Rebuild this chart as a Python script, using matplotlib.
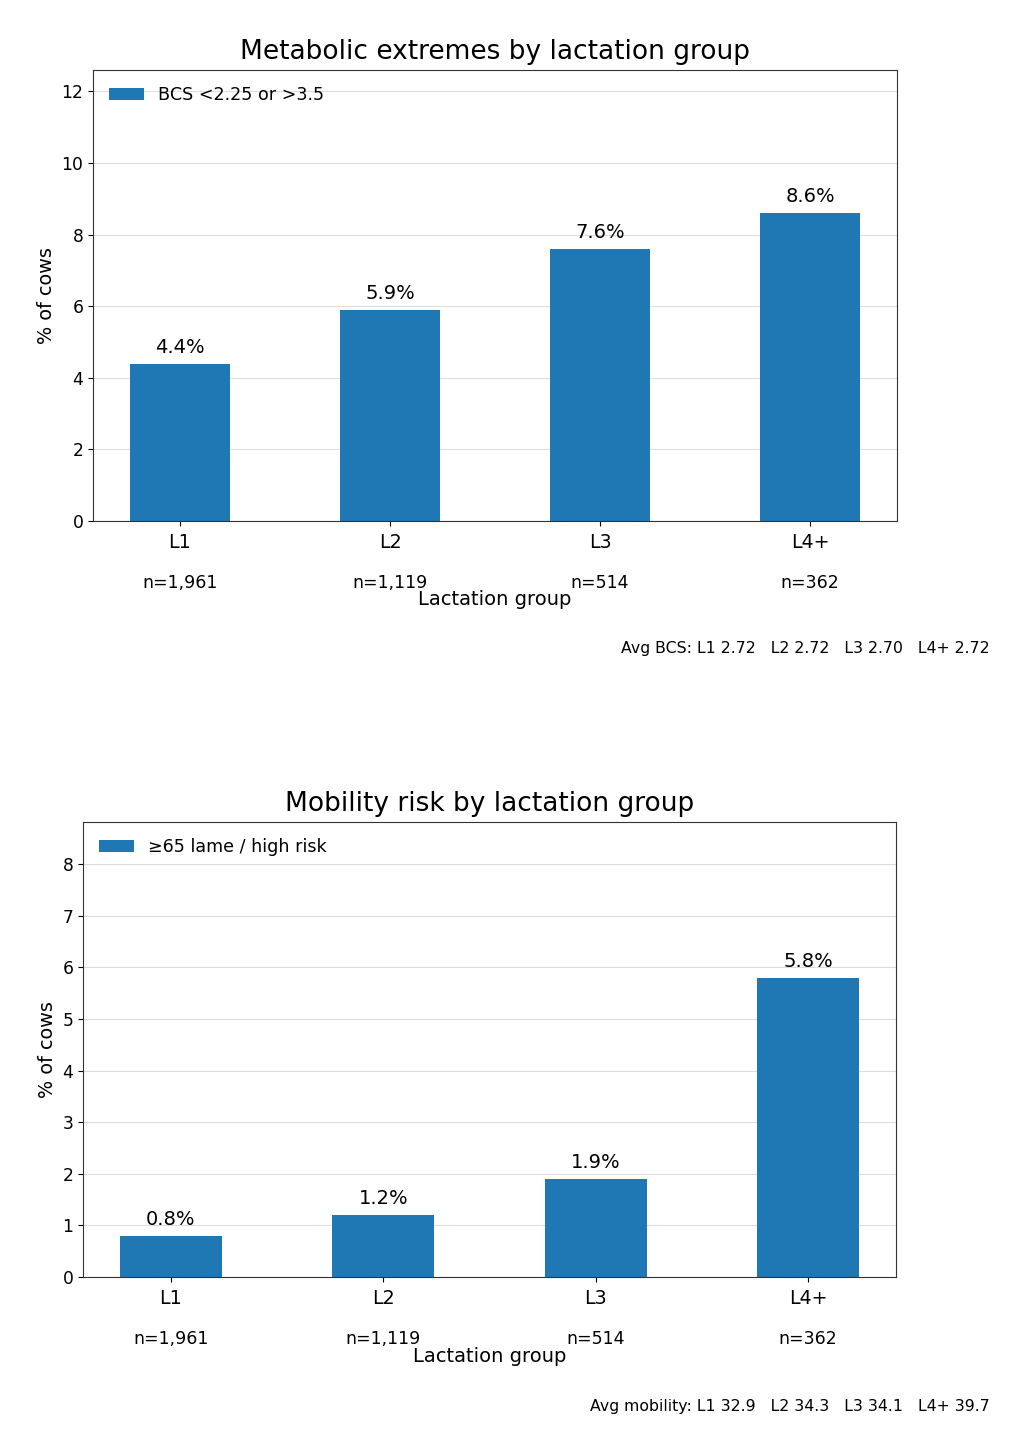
import numpy as np
import matplotlib
matplotlib.use('Agg')
import matplotlib.pyplot as plt
from matplotlib import transforms

# data
groups = ['L1', 'L2', 'L3', 'L4+']
n_cows = [1961, 1119, 514, 362]
bcs_extreme_pct = [4.4, 5.9, 7.6, 8.6]
lame_pct = [0.8, 1.2, 1.9, 5.8]
avg_bcs = [2.72, 2.72, 2.70, 2.72]
avg_mobility = [32.9, 34.3, 34.1, 39.7]

W, H = 1024, 1448
fig = plt.figure(figsize=(W / 100, H / 100), dpi=100)


def px_axes(left, top, right, bottom):
    # axes box given in pixel coords of the final image
    return fig.add_axes([left / W, 1 - bottom / H, (right - left) / W, (bottom - top) / H])


def draw_panel(ax, values, label, title, ymax, yticks, note, note_y):
    x = np.arange(len(groups))
    bars = ax.bar(x, values, width=0.48, color='#1f77b4', label=label, zorder=2)
    ax.set_xticks(x)
    ax.set_xticklabels(groups, fontsize=13.7)
    ax.tick_params(axis='x', pad=5)
    ax.set_ylim(0, ymax)
    ax.set_yticks(yticks)
    ax.tick_params(axis='y', labelsize=12.3)
    ax.grid(axis='y', color='#dddddd', linewidth=0.8, zorder=0)
    ax.set_axisbelow(True)
    for s in ax.spines.values():
        s.set_color('#333333')
    ax.set_title(title, fontsize=19, pad=8)
    ax.set_ylabel('% of cows', fontsize=13.9)
    ax.set_xlabel('Lactation group', fontsize=14)
    ax.xaxis.set_label_coords(0.5, -0.153)

    # value labels above bars
    for b, v in zip(bars, values):
        ax.annotate(f'{v:.1f}%', xy=(b.get_x() + b.get_width() / 2, v),
                    xytext=(0, 7), textcoords='offset pixels',
                    ha='center', va='bottom', fontsize=14)

    # sample sizes under the tick labels
    trans = transforms.blended_transform_factory(ax.transData, ax.transAxes)
    for i, n in enumerate(n_cows):
        ax.annotate(f'n={n:,}', xy=(i, 0), xycoords=trans,
                    xytext=(0, -62), textcoords='offset pixels',
                    ha='center', va='center', fontsize=12.5)

    ax.legend(loc='upper left', frameon=False, fontsize=12.6)
    fig.text(990 / W, 1 - note_y / H, note, ha='right', va='center', fontsize=11.3)


ax1 = px_axes(93, 70, 897, 521)
note1 = 'Avg BCS: ' + '   '.join(f'{g} {v:.2f}' for g, v in zip(groups, avg_bcs))
draw_panel(ax1, bcs_extreme_pct, 'BCS <2.25 or >3.5',
           'Metabolic extremes by lactation group', 12.6, range(0, 13, 2), note1, 648)

ax2 = px_axes(83, 822, 896, 1277)
note2 = 'Avg mobility: ' + '   '.join(f'{g} {v:.1f}' for g, v in zip(groups, avg_mobility))
draw_panel(ax2, lame_pct, '≥65 lame / high risk',
           'Mobility risk by lactation group', 8.82, range(0, 9), note2, 1406)

fig.savefig('out.png', dpi=100)
